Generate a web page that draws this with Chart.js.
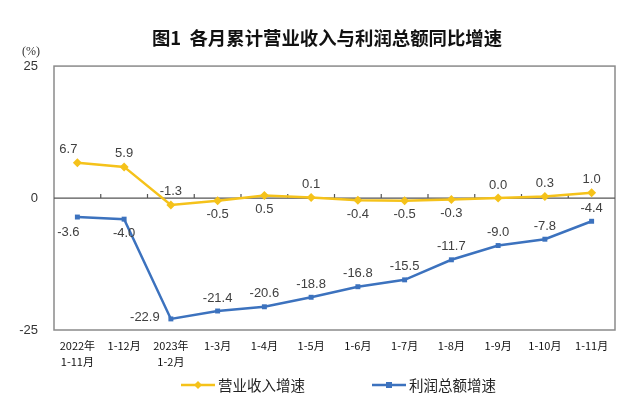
<!DOCTYPE html>
<html lang="zh-CN">
<head>
  <meta charset="UTF-8" />
  <title>各月累计营业收入与利润总额同比增速</title>
  <script src="https://cdn.jsdelivr.net/npm/chart.js"></script>
  <style>
    html, body { margin: 0; padding: 0; background: #fff; }
    #wrap { width: 640px; height: 409px; position: relative; }
  </style>
</head>
<body>
  <div id="wrap"><canvas id="chart"></canvas></div>

  <script>
    // data
    const months = [
      ['2022年', '1-11月'], '1-12月', ['2023年', '1-2月'], '1-3月', '1-4月', '1-5月',
      '1-6月', '1-7月', '1-8月', '1-9月', '1-10月', '1-11月'
    ];
    const revenueGrowth = [6.7, 5.9, -1.3, -0.5, 0.5, 0.1, -0.4, -0.5, -0.3, 0.0, 0.3, 1.0];
    const profitGrowth = [-3.6, -4.0, -22.9, -21.4, -20.6, -18.8, -16.8, -15.5, -11.7, -9.0, -7.8, -4.4];
    const yTicks = [-25, 0, 25];

    // where each value label sits relative to its point
    const revenueLabelPos = ['aboveLeft', 'above', 'above', 'below', 'below', 'above',
      'below', 'below', 'below', 'above', 'above', 'above'];
    const profitLabelPos = ['belowLeft', 'below', 'left', 'above', 'above', 'above',
      'above', 'above', 'above', 'above', 'above', 'above'];

    const YELLOW = '#F5C21A';
    const BLUE = '#3C72BE';
    const FRAME = '#8a8a8a';

    const offsets = {
      above: [0, -13], below: [0, 14], aboveLeft: [-9, -13],
      belowLeft: [-9, 15], left: [-26, -1]
    };

    // value labels
    const valueLabels = {
      id: 'valueLabels',
      afterDatasetsDraw(chart) {
        const ctx = chart.ctx;
        ctx.save();
        ctx.font = '13px "Liberation Sans", Arial, sans-serif';
        ctx.fillStyle = '#404040';
        ctx.textAlign = 'center';
        ctx.textBaseline = 'middle';
        chart.data.datasets.forEach((ds, di) => {
          const meta = chart.getDatasetMeta(di);
          const pos = di === 0 ? revenueLabelPos : profitLabelPos;
          meta.data.forEach((pt, i) => {
            const o = offsets[pos[i]];
            ctx.fillText(ds.data[i].toFixed(1), pt.x + o[0], pt.y + o[1]);
          });
        });
        ctx.restore();
      }
    };

    // frame, zero line with small ticks, (%) unit
    const frame = {
      id: 'frame',
      beforeDatasetsDraw(chart) {
        const { ctx, chartArea: a, scales: { x, y } } = chart;
        ctx.save();
        ctx.strokeStyle = FRAME;
        ctx.lineWidth = 1.5;
        ctx.strokeRect(a.left, a.top, a.right - a.left, a.bottom - a.top);

        const y0 = y.getPixelForValue(0);
        ctx.strokeStyle = '#555';
        ctx.lineWidth = 1.2;
        ctx.beginPath();
        ctx.moveTo(a.left, y0);
        ctx.lineTo(a.right, y0);
        for (let i = 0; i < months.length - 1; i++) {
          const bx = (x.getPixelForValue(i) + x.getPixelForValue(i + 1)) / 2;
          ctx.moveTo(bx, y0);
          ctx.lineTo(bx, y0 - 4);
        }
        ctx.stroke();

        ctx.fillStyle = '#333';
        ctx.font = '12px "Liberation Serif", serif';
        ctx.textAlign = 'center';
        ctx.textBaseline = 'middle';
        ctx.fillText('(%)', 31, y.getPixelForValue(25) - 14);
        ctx.restore();
      }
    };

    function legendMark(color, style) {
      const c = document.createElement('canvas');
      c.width = 34; c.height = 12;
      const g = c.getContext('2d');
      g.strokeStyle = color;
      g.lineWidth = 2.5;
      g.beginPath(); g.moveTo(0, 6); g.lineTo(34, 6); g.stroke();
      g.fillStyle = color;
      if (style === 'rectRot') {
        g.beginPath(); g.moveTo(17, 2); g.lineTo(21, 6); g.lineTo(17, 10); g.lineTo(13, 6); g.closePath(); g.fill();
      } else {
        g.fillRect(14, 3, 6, 6);
      }
      return c;
    }

    // legend drawn below the axis
    const bottomLegend = {
      id: 'bottomLegend',
      afterDraw(chart) {
        const ctx = chart.ctx;
        const items = [
          { x: 181, ds: chart.data.datasets[0], style: 'rectRot' },
          { x: 372, ds: chart.data.datasets[1], style: 'rect' }
        ];
        ctx.save();
        ctx.font = '14.5px "Noto Sans CJK SC", sans-serif';
        ctx.fillStyle = '#222';
        ctx.textBaseline = 'middle';
        items.forEach(it => {
          ctx.drawImage(legendMark(it.ds.borderColor, it.style), it.x, 379);
          ctx.fillText(it.ds.label, it.x + 37, 385);
        });
        ctx.restore();
      }
    };

    new Chart(document.getElementById('chart'), {
      type: 'line',
      data: {
        labels: months,
        datasets: [
          {
            label: '营业收入增速',
            data: revenueGrowth,
            borderColor: YELLOW,
            backgroundColor: YELLOW,
            borderWidth: 2.5,
            pointStyle: 'rectRot',
            pointRadius: 4.5,
            pointBorderWidth: 0,
            tension: 0
          },
          {
            label: '利润总额增速',
            data: profitGrowth,
            borderColor: BLUE,
            backgroundColor: BLUE,
            borderWidth: 2.5,
            pointStyle: 'rect',
            pointRadius: 3.5,
            pointBorderWidth: 0,
            tension: 0
          }
        ]
      },
      options: {
        responsive: true,
        maintainAspectRatio: false,
        animation: false,
        layout: { padding: { left: 14, right: 0, top: 0, bottom: 39 } },
        plugins: {
          legend: { display: false },
          tooltip: { enabled: false },
          title: {
            display: true,
            text: '图1  各月累计营业收入与利润总额同比增速',
            color: '#111',
            font: { family: '"Noto Sans CJK SC", sans-serif', size: 18.4, weight: 'bold' },
            padding: { top: 27, bottom: 17 }
          }
        },
        scales: {
          x: {
            offset: true,
            grid: { display: false, drawTicks: false },
            border: { display: false },
            ticks: {
              color: '#111',
              font: { family: '"Noto Sans CJK SC", sans-serif', size: 11, lineHeight: 1.45 },
              padding: 8,
              maxRotation: 0,
              autoSkip: false
            },
            afterFit(s) { s.height = 40; }
          },
          y: {
            min: -25,
            max: 25,
            afterBuildTicks(s) { s.ticks = yTicks.map(v => ({ value: v })); },
            grid: { display: false, drawTicks: false },
            border: { display: false },
            ticks: {
              color: '#333',
              font: { family: '"Liberation Sans", Arial, sans-serif', size: 13 },
              padding: 16
            },
            afterFit(s) { s.width = 40; }
          },
          // empty right-hand margin
          yRight: {
            position: 'right',
            min: -25,
            max: 25,
            grid: { display: false, drawTicks: false },
            border: { display: false },
            ticks: { display: false },
            afterFit(s) { s.width = 25; }
          }
        }
      },
      plugins: [frame, valueLabels, bottomLegend]
    });
  </script>
</body>
</html>
